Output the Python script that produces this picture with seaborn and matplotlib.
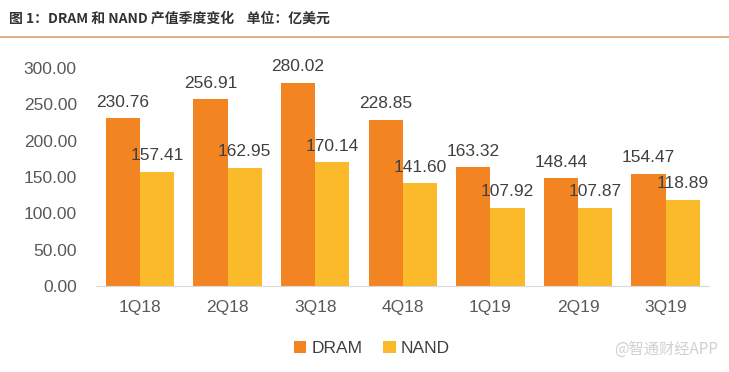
import pandas as pd
import matplotlib.pyplot as plt
import seaborn as sns

# 데이터
quarters = ['1Q18', '2Q18', '3Q18', '4Q18', '1Q19', '2Q19', '3Q19']
dram = [230.76, 256.91, 280.02, 228.85, 163.32, 148.44, 154.47]
nand = [157.41, 162.95, 170.14, 141.60, 107.92, 107.87, 118.89]
series = ['DRAM', 'NAND']
colors = ['#F28522', '#FBBA2A']

df = pd.DataFrame({
    'quarter': quarters * 2,
    'value': dram + nand,
    'type': ['DRAM'] * len(quarters) + ['NAND'] * len(quarters),
})

sns.set_style('white')
plt.rcParams['font.family'] = ['Liberation Sans', 'Noto Sans CJK SC', 'DejaVu Sans']

fig = plt.figure(figsize=(7.29, 3.72), dpi=100)
ax = fig.add_axes([0.132, 0.231, 0.841, 0.586])

sns.barplot(data=df, x='quarter', y='value', hue='type', hue_order=series,
            palette=colors, width=0.78, saturation=1, linewidth=0, ax=ax)

# 막대 위에 값 표시
for cont in ax.containers:
    ax.bar_label(cont, fmt='%.2f', padding=6, fontsize=12.5, color='#404040')

ax.set_ylim(0, 300)
ax.set_yticks(range(0, 301, 50))
ax.set_yticklabels([f'{v:.2f}' for v in range(0, 301, 50)])
ax.set_xlabel('')
ax.set_ylabel('')
ax.tick_params(axis='both', labelsize=12.5, colors='#595959', length=0)
ax.tick_params(axis='x', pad=10)
ax.tick_params(axis='y', pad=14)
for s in ['top', 'right', 'left']:
    ax.spines[s].set_visible(False)
ax.spines['bottom'].set_color('#d9d9d9')

leg = ax.legend(loc='upper center', bbox_to_anchor=(0.45, -0.18), ncol=2, frameon=False,
                fontsize=12.5, handlelength=0.7, handleheight=0.7, handletextpad=0.3,
                columnspacing=1.2)
for t in leg.get_texts():
    t.set_color('#404040')

# 제목과 구분선
fig.text(0.012, 0.95, '图 1：DRAM 和 NAND 产值季度变化    单位：亿美元', fontsize=10,
         fontweight='bold', color='#333333', va='center',
         family=['Noto Sans CJK SC', 'DejaVu Sans'])
fig.add_artist(plt.Line2D([0, 1], [0.9, 0.9], color='#D9A070', lw=1.2))

# 워터마크
fig.text(0.985, 0.05, '@智通财经APP', fontsize=11, color='#d0d0d0', ha='right',
         family=['Noto Sans CJK SC', 'DejaVu Sans'])

fig.savefig('out.png', dpi=100)
